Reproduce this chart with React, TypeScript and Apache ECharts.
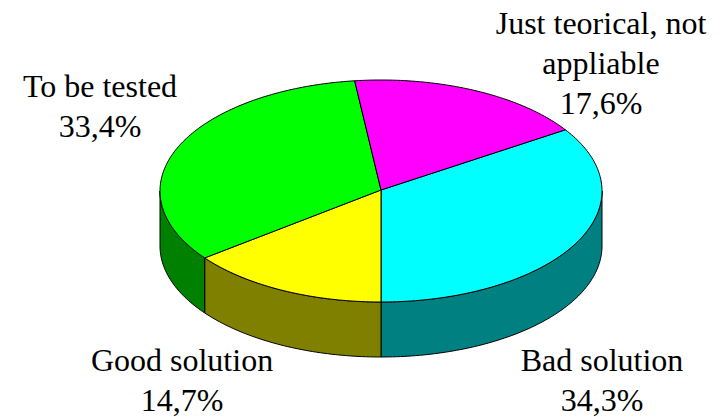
import React, { useEffect, useRef } from "react";
import * as echarts from "echarts";

const categories = ["Bad solution", "Good solution", "To be tested", "Just teorical, not\nappliable"];
const shares = [34.3, 14.7, 33.4, 17.6];
const shareLabels = ["34,3%", "14,7%", "33,4%", "17,6%"];
const topColors = ["#00ffff", "#ffff00", "#00ff00", "#ff00ff"];
const sideColors = ["#008080", "#808000", "#008000", "#800080"];

const CX = 381, CY = 191, RX = 221, RY = 111, DEPTH = 55;
const rad = (d: number) => (d * Math.PI) / 180;
const px = (t: number) => CX + RX * Math.sin(rad(t));
const py = (t: number) => CY - RY * Math.cos(rad(t));
const total = shares.reduce((a, b) => a + b, 0);
const startOf = (i: number) => {
  let s = 180 - (shares[0] / total) * 360;
  for (let k = 0; k < i; k++) s += (shares[k] / total) * 360;
  return s;
};
const arcPts = (a: number, b: number, dy = 0) => {
  const n = Math.max(2, Math.ceil(Math.abs(b - a)));
  const out: string[] = [];
  for (let k = 0; k <= n; k++) {
    const t = a + ((b - a) * k) / n;
    out.push(`${px(t).toFixed(2)} ${(py(t) + dy).toFixed(2)}`);
  }
  return out;
};

export default function App() {
  const ref = useRef<HTMLDivElement>(null);
  useEffect(() => {
    const chart = echarts.init(ref.current!, undefined, { renderer: "svg" });
    const data = shares.map((v, i) => ({ value: v, name: categories[i] }));
    const option: any = {
      animation: false,
      backgroundColor: "#ffffff",
      series: [
        {
          type: "custom",
          coordinateSystem: "none",
          silent: true,
          z: 1,
          data,
          renderItem: (_p: any, api: any) => {
            const i = _p.dataIndex;
            const sweep = (api.value(0) / total) * 360;
            const a = Math.max(startOf(i), 90);
            const b = Math.min(startOf(i) + sweep, 270);
            if (b <= a) return { type: "group", children: [] };
            const top = arcPts(a, b);
            const bottom = arcPts(b, a, DEPTH);
            return {
              type: "path",
              shape: { pathData: "M" + top.join("L") + "L" + bottom.join("L") + "Z" },
              style: { fill: sideColors[i], stroke: "#000", lineWidth: 1 },
            };
          },
        },
        {
          type: "custom",
          coordinateSystem: "none",
          silent: true,
          z: 2,
          data,
          renderItem: (_p: any, api: any) => {
            const i = _p.dataIndex;
            const sweep = (api.value(0) / total) * 360;
            const a = startOf(i);
            const pts = arcPts(a, a + sweep);
            return {
              type: "path",
              shape: { pathData: `M${CX} ${CY - 1}L` + pts.join("L") + "Z" },
              style: { fill: topColors[i], stroke: "#000", lineWidth: 1 },
            };
          },
        },
      ],
      graphic: [
        { xy: [602, 340], i: 0 },
        { xy: [182, 340], i: 1 },
        { xy: [100, 66], i: 2 },
        { xy: [601, 3], i: 3 },
      ].map(({ xy, i }) => ({
        type: "text",
        x: xy[0],
        y: xy[1],
        style: {
          text: categories[i] + "\n" + shareLabels[i],
          fontFamily: "Liberation Serif",
          fontSize: 32,
          lineHeight: 40,
          fill: "#000",
          align: "center",
          verticalAlign: "top",
        },
      })),
    };
    chart.setOption(option);
    return () => chart.dispose();
  }, []);
  return <div ref={ref} style={{ width: 724, height: 417, position: "fixed", left: 0, top: 0 }} />;
}
